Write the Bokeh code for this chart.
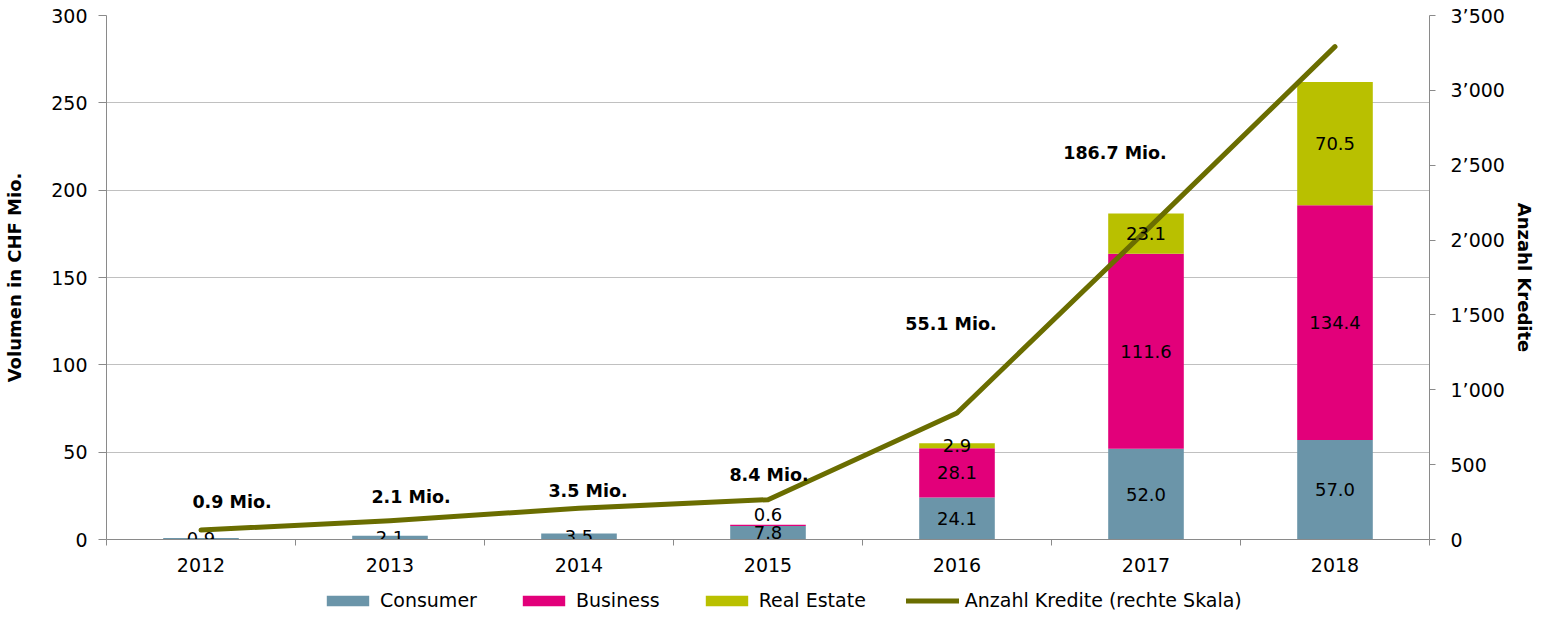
import numpy as np
from bokeh.plotting import figure
from bokeh.layouts import column
from bokeh.models import (Range1d, LinearAxis, FixedTicker, CustomJSTickFormatter,
                          ColumnDataSource, Legend, LegendItem)
from bokeh.core.properties import value
from bokeh.embed import file_html
from bokeh.resources import INLINE

# ---------------- data ----------------
years = ["2012", "2013", "2014", "2015", "2016", "2017", "2018"]
consumer = [0.9, 2.1, 3.5, 7.8, 24.1, 52.0, 57.0]
business = [0.0, 0.0, 0.0, 0.6, 28.1, 111.6, 134.4]
real_estate = [0.0, 0.0, 0.0, 0.0, 2.9, 23.1, 70.5]
kredite = [63, 126, 208, 266, 845, 2063, 3292]

total_years = ["2012", "2013", "2014", "2015", "2016", "2017"]
total_label_y = [21.5, 24.3, 27.8, 36.9, 123.1, 221.3]
total_label_dx = [31, 21, 9, 1, -6, -31]

left_ticks = [0, 50, 100, 150, 200, 250, 300]
right_ticks = [0, 500, 1000, 1500, 2000, 2500, 3000, 3500]

series_names = ["Consumer", "Business", "Real Estate"]
line_name = "Anzahl Kredite (rechte Skala)"

# ---------------- styles ----------------
C_CONS = "#6b95a9"
C_BUS = "#e2007a"
C_RE = "#b9c000"
C_LINE = "#6a6d00"
AXIS_C = "#8a8a8a"
GRID_C = "#c0c0c0"
FONT = "DejaVu Sans"
SERIES_COLORS = [C_CONS, C_BUS, C_RE]

xpos = np.arange(len(years)) + 0.5
src = ColumnDataSource(dict(x=xpos, consumer=consumer, business=business,
                            real_estate=real_estate, kredite=kredite))

p = figure(width=1540, height=589, x_range=Range1d(0, len(years)),
           y_range=Range1d(left_ticks[0], left_ticks[-1]),
           output_backend="svg", toolbar_location=None,
           min_border_left=106, min_border_right=111, min_border_top=15,
           min_border_bottom=50)
p.extra_y_ranges = {"right": Range1d(right_ticks[0], right_ticks[-1])}
p.outline_line_color = None
p.background_fill_color = "white"
p.xgrid.visible = False
p.ygrid.ticker = FixedTicker(ticks=left_ticks)
p.ygrid.grid_line_color = GRID_C
p.ygrid.grid_line_width = 1

bars = p.vbar_stack(["consumer", "business", "real_estate"], x="x", width=0.4,
                    color=SERIES_COLORS, line_color=None, source=src)

line = p.line(x="x", y="kredite", source=src, y_range_name="right",
              line_width=5, line_color=C_LINE, line_cap="round", line_join="round")

# ---------------- segment labels ----------------
lx, ly, lt, loff = [], [], [], []
bottoms = np.zeros(len(years))
for vals in (consumer, business, real_estate):
    for i, v in enumerate(vals):
        if v > 0:
            lx.append(xpos[i])
            ly.append(bottoms[i] + v / 2.0)
            lt.append(f"{v:.1f}")
            loff.append(-11 if (v < 1 and bottoms[i] > 0) else 0)
    bottoms = bottoms + np.array(vals)

p.text(x=lx, y=ly, text=lt, y_offset=loff, text_align="center", text_baseline="middle",
       text_font=value(FONT), text_font_size="18px", text_color="#000000")

# ---------------- total labels ----------------
totals = [c + b + r for c, b, r in zip(consumer, business, real_estate)]
tot_txt = [f"{totals[years.index(y)]:.1f} Mio." for y in total_years]
tot_x = [xpos[years.index(y)] for y in total_years]
p.text(x=tot_x, y=total_label_y, text=tot_txt, x_offset=total_label_dx,
       text_align="center", text_baseline="middle", text_font=value(FONT),
       text_font_size="17.5px", text_font_style="bold", text_color="#000000")

# ---------------- axes ----------------
xa = p.xaxis[0]
xa.ticker = FixedTicker(ticks=list(xpos), minor_ticks=list(range(len(years) + 1)))
xa.formatter = CustomJSTickFormatter(args=dict(labels=years),
                                     code="return labels[Math.floor(tick)];")
xa.major_tick_out = 0
xa.major_tick_in = 0
xa.minor_tick_out = 6
xa.minor_tick_in = 0
xa.minor_tick_line_color = AXIS_C
xa.axis_line_color = AXIS_C
xa.major_label_standoff = 12
xa.major_label_text_font = FONT
xa.major_label_text_font_size = "19px"
xa.major_label_text_color = "#000000"

ya = p.yaxis[0]
ya.ticker = FixedTicker(ticks=left_ticks)
ya.axis_line_color = AXIS_C
ya.major_tick_line_color = AXIS_C
ya.major_tick_out = 8
ya.major_tick_in = 0
ya.minor_tick_line_color = None
ya.major_label_standoff = 11
ya.major_label_text_font = FONT
ya.major_label_text_font_size = "19px"
ya.major_label_text_color = "#000000"
ya.axis_label = "Volumen in CHF Mio."
ya.axis_label_text_font = FONT
ya.axis_label_text_font_size = "18px"
ya.axis_label_text_font_style = "bold"
ya.axis_label_text_color = "#000000"
ya.axis_label_standoff = 23

ra = LinearAxis(y_range_name="right", ticker=FixedTicker(ticks=right_ticks),
                formatter=CustomJSTickFormatter(code="""
const s = Math.round(tick).toString();
if (s.length > 3) { return s.slice(0, s.length - 3) + "\u2019" + s.slice(s.length - 3); }
return s;
"""))
ra.axis_line_color = AXIS_C
ra.major_tick_line_color = AXIS_C
ra.major_tick_out = 6
ra.major_tick_in = 0
ra.minor_tick_line_color = None
ra.major_label_standoff = 15
ra.major_label_text_font = FONT
ra.major_label_text_font_size = "19px"
ra.major_label_text_color = "#000000"
ra.axis_label = "Anzahl Kredite"
ra.axis_label_text_font = FONT
ra.axis_label_text_font_size = "18px"
ra.axis_label_text_font_style = "bold"
ra.axis_label_text_color = "#000000"
ra.axis_label_standoff = 6
p.add_layout(ra, "right")

# ---------------- legend strip (separate figure below the chart) ----------------
lg = figure(width=1540, height=22, x_range=Range1d(0, 1), y_range=Range1d(0, 1),
            output_backend="svg", toolbar_location=None,
            x_axis_location=None, y_axis_location=None,
            min_border_left=0, min_border_right=0, min_border_top=0, min_border_bottom=0)
lg.outline_line_color = None
lg.xgrid.visible = False
lg.ygrid.visible = False
# legend proxies: one NaN point each, so nothing is drawn in the strip itself
proxy_bars = [lg.vbar(x=[np.nan], top=[np.nan], width=0.1, color=c, line_color=None)
              for c in SERIES_COLORS]
proxy_line = lg.line(x=[np.nan], y=[np.nan], line_width=5, line_color=C_LINE,
                     line_cap="round")

items = [LegendItem(label=n, renderers=[r]) for n, r in zip(series_names, proxy_bars)]
items.append(LegendItem(label=line_name, renderers=[proxy_line]))
legend = Legend(items=items, orientation="horizontal", location=(215, 0),
                glyph_width=53, glyph_height=13, label_standoff=6, spacing=40,
                padding=0, margin=0, border_line_color=None, background_fill_alpha=0,
                label_text_font=FONT, label_text_font_size="19px",
                label_text_color="#000000", label_height=18)
lg.add_layout(legend, "center")

open("out.html", "w").write(file_html(column(p, lg), INLINE))
